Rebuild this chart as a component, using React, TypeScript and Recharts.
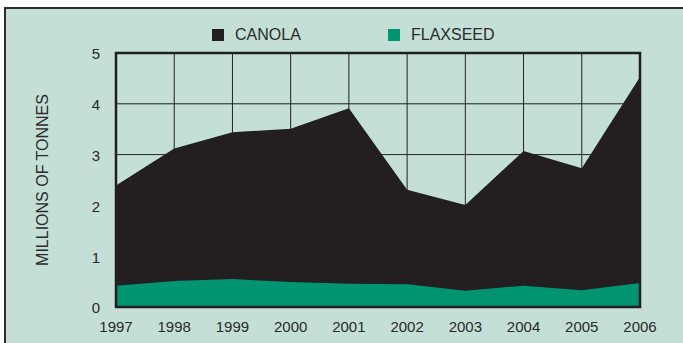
import React from 'react';
import { AreaChart, Area, XAxis, YAxis, CartesianGrid, Legend, ReferenceArea } from 'recharts';

const years = [1997, 1998, 1999, 2000, 2001, 2002, 2003, 2004, 2005, 2006];
const canola = [2.39, 3.12, 3.44, 3.51, 3.91, 2.31, 2.01, 3.07, 2.73, 4.53];
const flaxseed = [0.42, 0.51, 0.55, 0.49, 0.46, 0.45, 0.32, 0.42, 0.33, 0.47];
const yTicks = [0, 1, 2, 3, 4, 5];
const seriesNames = ['CANOLA', 'FLAXSEED'];
const seriesColors = ['#231f20', '#009470'];
const axisTitle = 'MILLIONS OF TONNES';

const data = years.map((year, i) => ({ year, canola: canola[i], flaxseed: flaxseed[i] }));

const FONT = "'Liberation Sans', Arial, Helvetica, sans-serif";
const TEXT = '#2a2a2a';

const renderLegend = () => (
  <div style={{ display: 'flex', alignItems: 'center', fontSize: 16, lineHeight: '16px', color: TEXT, fontFamily: FONT }}>
    {seriesNames.map((n, i) => (
      <div key={n} style={{ display: 'flex', alignItems: 'center', width: i === 0 ? 176 : 'auto' }}>
        <span style={{ display: 'inline-block', width: 12, height: 12, background: seriesColors[i], marginRight: 11 }} />
        <span>{n}</span>
      </div>
    ))}
  </div>
);

export default function App() {
  return (
    <div style={{ position: 'fixed', left: 0, top: 0, width: 683, height: 343, background: '#ffffff', overflow: 'hidden', fontFamily: FONT }}>
      <div style={{ position: 'absolute', left: 4, top: 7, width: 720, height: 380, border: '2px solid #2d2d2d', background: '#c4e0d6', boxSizing: 'border-box' }} />
      <div style={{ position: 'absolute', left: 0, top: 0 }}>
        <AreaChart width={683} height={343} data={data} margin={{ top: 53, right: 43, bottom: 6, left: 36 }}>
          <CartesianGrid stroke="#231f20" strokeWidth={1} />
          <XAxis
            dataKey="year"
            type="number"
            domain={[1997, 2006]}
            ticks={years}
            interval={0}
            height={30}
            axisLine={false}
            tickLine={false}
            tickSize={0}
            tickMargin={14}
            tick={{ fill: TEXT, fontSize: 15 }}
          />
          <YAxis
            type="number"
            domain={[0, 5]}
            ticks={yTicks}
            width={80}
            axisLine={false}
            tickLine={false}
            tickSize={0}
            tickMargin={16}
            tick={{ fill: TEXT, fontSize: 15, dy: 1 }}
            label={{ value: axisTitle, angle: -90, position: 'insideLeft', offset: 6, fill: TEXT, fontSize: 16, style: { textAnchor: 'middle' } }}
          />
          <Legend
            layout="horizontal"
            verticalAlign="middle"
            align="center"
            content={renderLegend}
            wrapperStyle={{ top: 27, left: 212, width: 320, height: 16 }}
          />
          <Area
            type="linear"
            dataKey="canola"
            name={seriesNames[0]}
            stroke="none"
            fill={seriesColors[0]}
            fillOpacity={1}
            isAnimationActive={false}
            dot={false}
            activeDot={false}
          />
          <Area
            type="linear"
            dataKey="flaxseed"
            name={seriesNames[1]}
            stroke="none"
            fill={seriesColors[1]}
            fillOpacity={1}
            isAnimationActive={false}
            dot={false}
            activeDot={false}
          />
          <ReferenceArea x1={1997} x2={2006} y1={0} y2={5} fill="none" stroke="#231f20" strokeWidth={2.5} ifOverflow="visible" />
        </AreaChart>
      </div>
    </div>
  );
}
